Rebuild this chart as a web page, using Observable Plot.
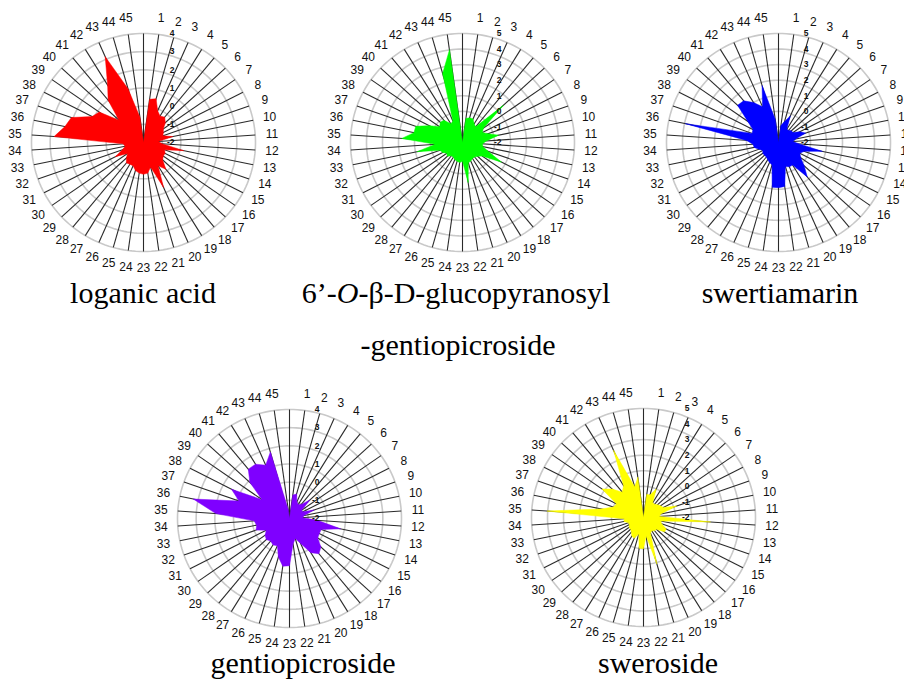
<!DOCTYPE html>
<html><head><meta charset="utf-8">
<script src="https://cdn.jsdelivr.net/npm/d3@7"></script>
<script src="https://cdn.jsdelivr.net/npm/@observablehq/plot@0.6"></script>
<style>
body{margin:0;background:#fff;}
#wrap{position:relative;width:904px;height:687px;overflow:hidden;background:#fff;}
.chart{position:absolute;}
#titles{position:absolute;left:0;top:0;}
</style></head><body><div id="wrap"></div>
<script>
// ---------- data ----------
const categories = d3.range(1, 46).map(String);
const ticksMax4 = [-2, -1, 0, 1, 2, 3, 4];
const ticksMax5 = [-2, -1, 0, 1, 2, 3, 4, 5];

const loganicAcid = [0.4, 0.5, -0.1, -0.3, -0.2, -0.4, -0.7, -0.8, -0.9, -0.4,
  -1.2, -1.0, 0.2, -0.8, -0.7, -0.7, -0.6, -0.1, -0.5, 0.7,
  -0.6, -0.3, -0.25, -0.3, -0.4, -0.6, -0.6, -0.55, -0.75, -0.95,
  -0.3, -0.8, -1.0, -0.9, 2.8, 2.3, 2.1, 1.1, 0.9, -0.2,
  1.0, 1.7, 3.15, 1.07, -0.6];
const glucopyranosylGentiopicroside = [-0.45, -0.35, -0.35, -0.6, -0.7, 1.5, -0.4, -0.6, -0.3, 0.3,
  -0.5, -0.75, -0.7, -0.3, 0.75, -0.5, -0.7, -0.8, -0.8, -0.7,
  -0.65, 0.6, -0.8, -0.7, -0.75, -0.8, -0.9, -0.9, -0.7, -0.8,
  -0.6, -0.5, 0.9, -0.3, 1.8, 1.1, 1.1, 0.35, -0.25, -0.1,
  -0.15, -0.6, -0.5, 2.6, 4.0];
const swertiamarin = [-0.9, -0.6, -0.15, -1.0, -1.0, -0.9, -0.9, -0.5, -0.2, -0.9,
  -1.1, -0.7, 0.8, -0.3, -0.5, -0.3, 0.2, 0.85, -0.3, -0.3,
  -0.4, 0.85, 0.9, 0.9, -0.5, -0.6, -0.7, -0.8, -0.8, -0.8,
  -0.9, -0.7, -0.45, -0.4, 0.0, 3.95, -0.25, -0.2, 0.35, 1.5,
  1.45, 1.0, 0.5, 1.8, -0.5];
const gentiopicroside = [-0.7, -0.6, -1.0, -1.1, -1.0, -0.5, -1.2, -1.2, -0.6, -1.2,
  -1.3, -0.5, 0.8, -0.2, -0.2, -0.15, 0.3, 0.5, 0.2, -0.5,
  -0.85, -0.6, 0.6, 0.65, 0.2, -0.37, -0.3, -0.4, -0.3, -0.4,
  -0.6, -0.1, -0.2, -0.1, 1.95, 3.27, 0.87, 1.5, -0.2, 0.9,
  1.5, 1.5, 1.2, 1.8, -1.5];
const sweroside = [-0.5, -0.5, 0.0, -0.9, -0.9, -0.8, -0.7, -0.6, 0.2, -0.9,
  -1.0, 2.2, -0.9, -0.8, -0.4, -0.4, -0.9, -0.9, -1.0, -0.9,
  1.1, -0.8, 0.0, 0.0, -0.9, -0.55, -0.6, -0.8, -0.9, -0.9,
  -1.0, -1.0, -0.75, -0.8, 4.05, 0.7, 0.0, -0.1, 1.17, 0.67,
  0.1, 0.4, 2.7, 0.05, 0.6];

// ---------- layout / style ----------
const charts = [
  {values: loganicAcid, ticks: ticksMax4, color: "#ff0000", cx: 143.3, cy: 141.8, tickDx: 31},
  {values: glucopyranosylGentiopicroside, ticks: ticksMax5, color: "#00ff00", cx: 462.3, cy: 142, tickDx: 39},
  {values: swertiamarin, ticks: ticksMax5, color: "#0000ff", cx: 777.7, cy: 142, tickDx: 30},
  {values: gentiopicroside, ticks: ticksMax4, color: "#7f00ff", cx: 289.3, cy: 517.5, tickDx: 30},
  {values: sweroside, ticks: ticksMax5, color: "#ffff00", cx: 643.3, cy: 517, tickDx: 46}
];

const N = 46;               // angular slots; slot 0 (top) is unused
const W = 300, H = 290;     // size of each plot
const RX = 112, RY = 109;   // outer ring radius in pixels
const ang = i => 2 * Math.PI * i / N;

const wrap = document.getElementById("wrap");

for (const c of charts) {
  const vmin = c.ticks[0], vmax = c.ticks[c.ticks.length - 1];
  const s = vmax - vmin;
  const kx = RX / s, ky = RY / s;
  const pts = [{k: 0, v: vmin}, ...c.values.map((v, i) => ({k: i + 1, v}))];
  const rings = c.ticks.slice(1).flatMap(t => d3.range(0, 361, 2).map(a => ({t, a: a * Math.PI / 180})));
  const plot = Plot.plot({
    width: W, height: H, margin: 0,
    x: {domain: [-(W / 2) / kx, (W / 2) / kx], axis: null},
    y: {domain: [-(H / 2) / ky, (H / 2) / ky], axis: null},
    marks: [
      Plot.line(rings, {x: d => (d.t - vmin) * Math.sin(d.a), y: d => (d.t - vmin) * Math.cos(d.a), z: "t",
        stroke: "#c9c9c9", strokeWidth: 1.6}),
      Plot.link(d3.range(N), {x1: 0, y1: 0, x2: i => s * Math.sin(ang(i)), y2: i => s * Math.cos(ang(i)),
        stroke: "#2a2a2a", strokeWidth: 1.1}),
      Plot.line(pts, {x: d => (d.v - vmin) * Math.sin(ang(d.k)), y: d => (d.v - vmin) * Math.cos(ang(d.k)),
        curve: "linear-closed", fill: c.color, stroke: c.color, strokeWidth: 0.5}),
      Plot.text(c.ticks, {x: c.tickDx / kx, y: t => t - vmin, text: t => String(t), textAnchor: "end",
        fontSize: 8.5, fontWeight: "bold", fontFamily: "Liberation Sans, Arial, sans-serif", fill: "#111"}),
      Plot.text(categories, {x: (d, i) => 1.15 * s * Math.sin(ang(i + 1)), y: (d, i) => 1.15 * s * Math.cos(ang(i + 1)),
        text: d => d, fontSize: 12, fontFamily: "Liberation Sans, Arial, sans-serif", fill: "#111"})
    ]
  });
  plot.classList.add("chart");
  plot.style.left = (c.cx - W / 2) + "px";
  plot.style.top = (c.cy - H / 2) + "px";
  wrap.appendChild(plot);
}

// ---------- titles ----------
const titles = [
  {text: "loganic acid", x: 143, y: 303},
  {text: "swertiamarin", x: 780, y: 303},
  {text: "-gentiopicroside", x: 458, y: 355},
  {text: "gentiopicroside", x: 303, y: 673},
  {text: "sweroside", x: 658, y: 673}
];
const svgNS = "http://www.w3.org/2000/svg";
const tsvg = document.createElementNS(svgNS, "svg");
tsvg.setAttribute("id", "titles");
tsvg.setAttribute("width", 904);
tsvg.setAttribute("height", 687);
tsvg.setAttribute("font-family", "Liberation Serif, Times New Roman, serif");
tsvg.setAttribute("font-size", 30);
for (const t of titles) {
  const el = document.createElementNS(svgNS, "text");
  el.setAttribute("x", t.x); el.setAttribute("y", t.y);
  el.setAttribute("text-anchor", "middle");
  el.textContent = t.text;
  tsvg.appendChild(el);
}
{
  const el = document.createElementNS(svgNS, "text");
  el.setAttribute("x", 456); el.setAttribute("y", 303);
  el.setAttribute("text-anchor", "middle");
  const parts = [["6\u2019-", false], ["O", true], ["-\u03B2-D-glucopyranosyl", false]];
  for (const [txt, it] of parts) {
    const sp = document.createElementNS(svgNS, "tspan");
    if (it) sp.setAttribute("font-style", "italic");
    sp.textContent = txt;
    el.appendChild(sp);
  }
  tsvg.appendChild(el);
}
wrap.appendChild(tsvg);
</script>
</body></html>
